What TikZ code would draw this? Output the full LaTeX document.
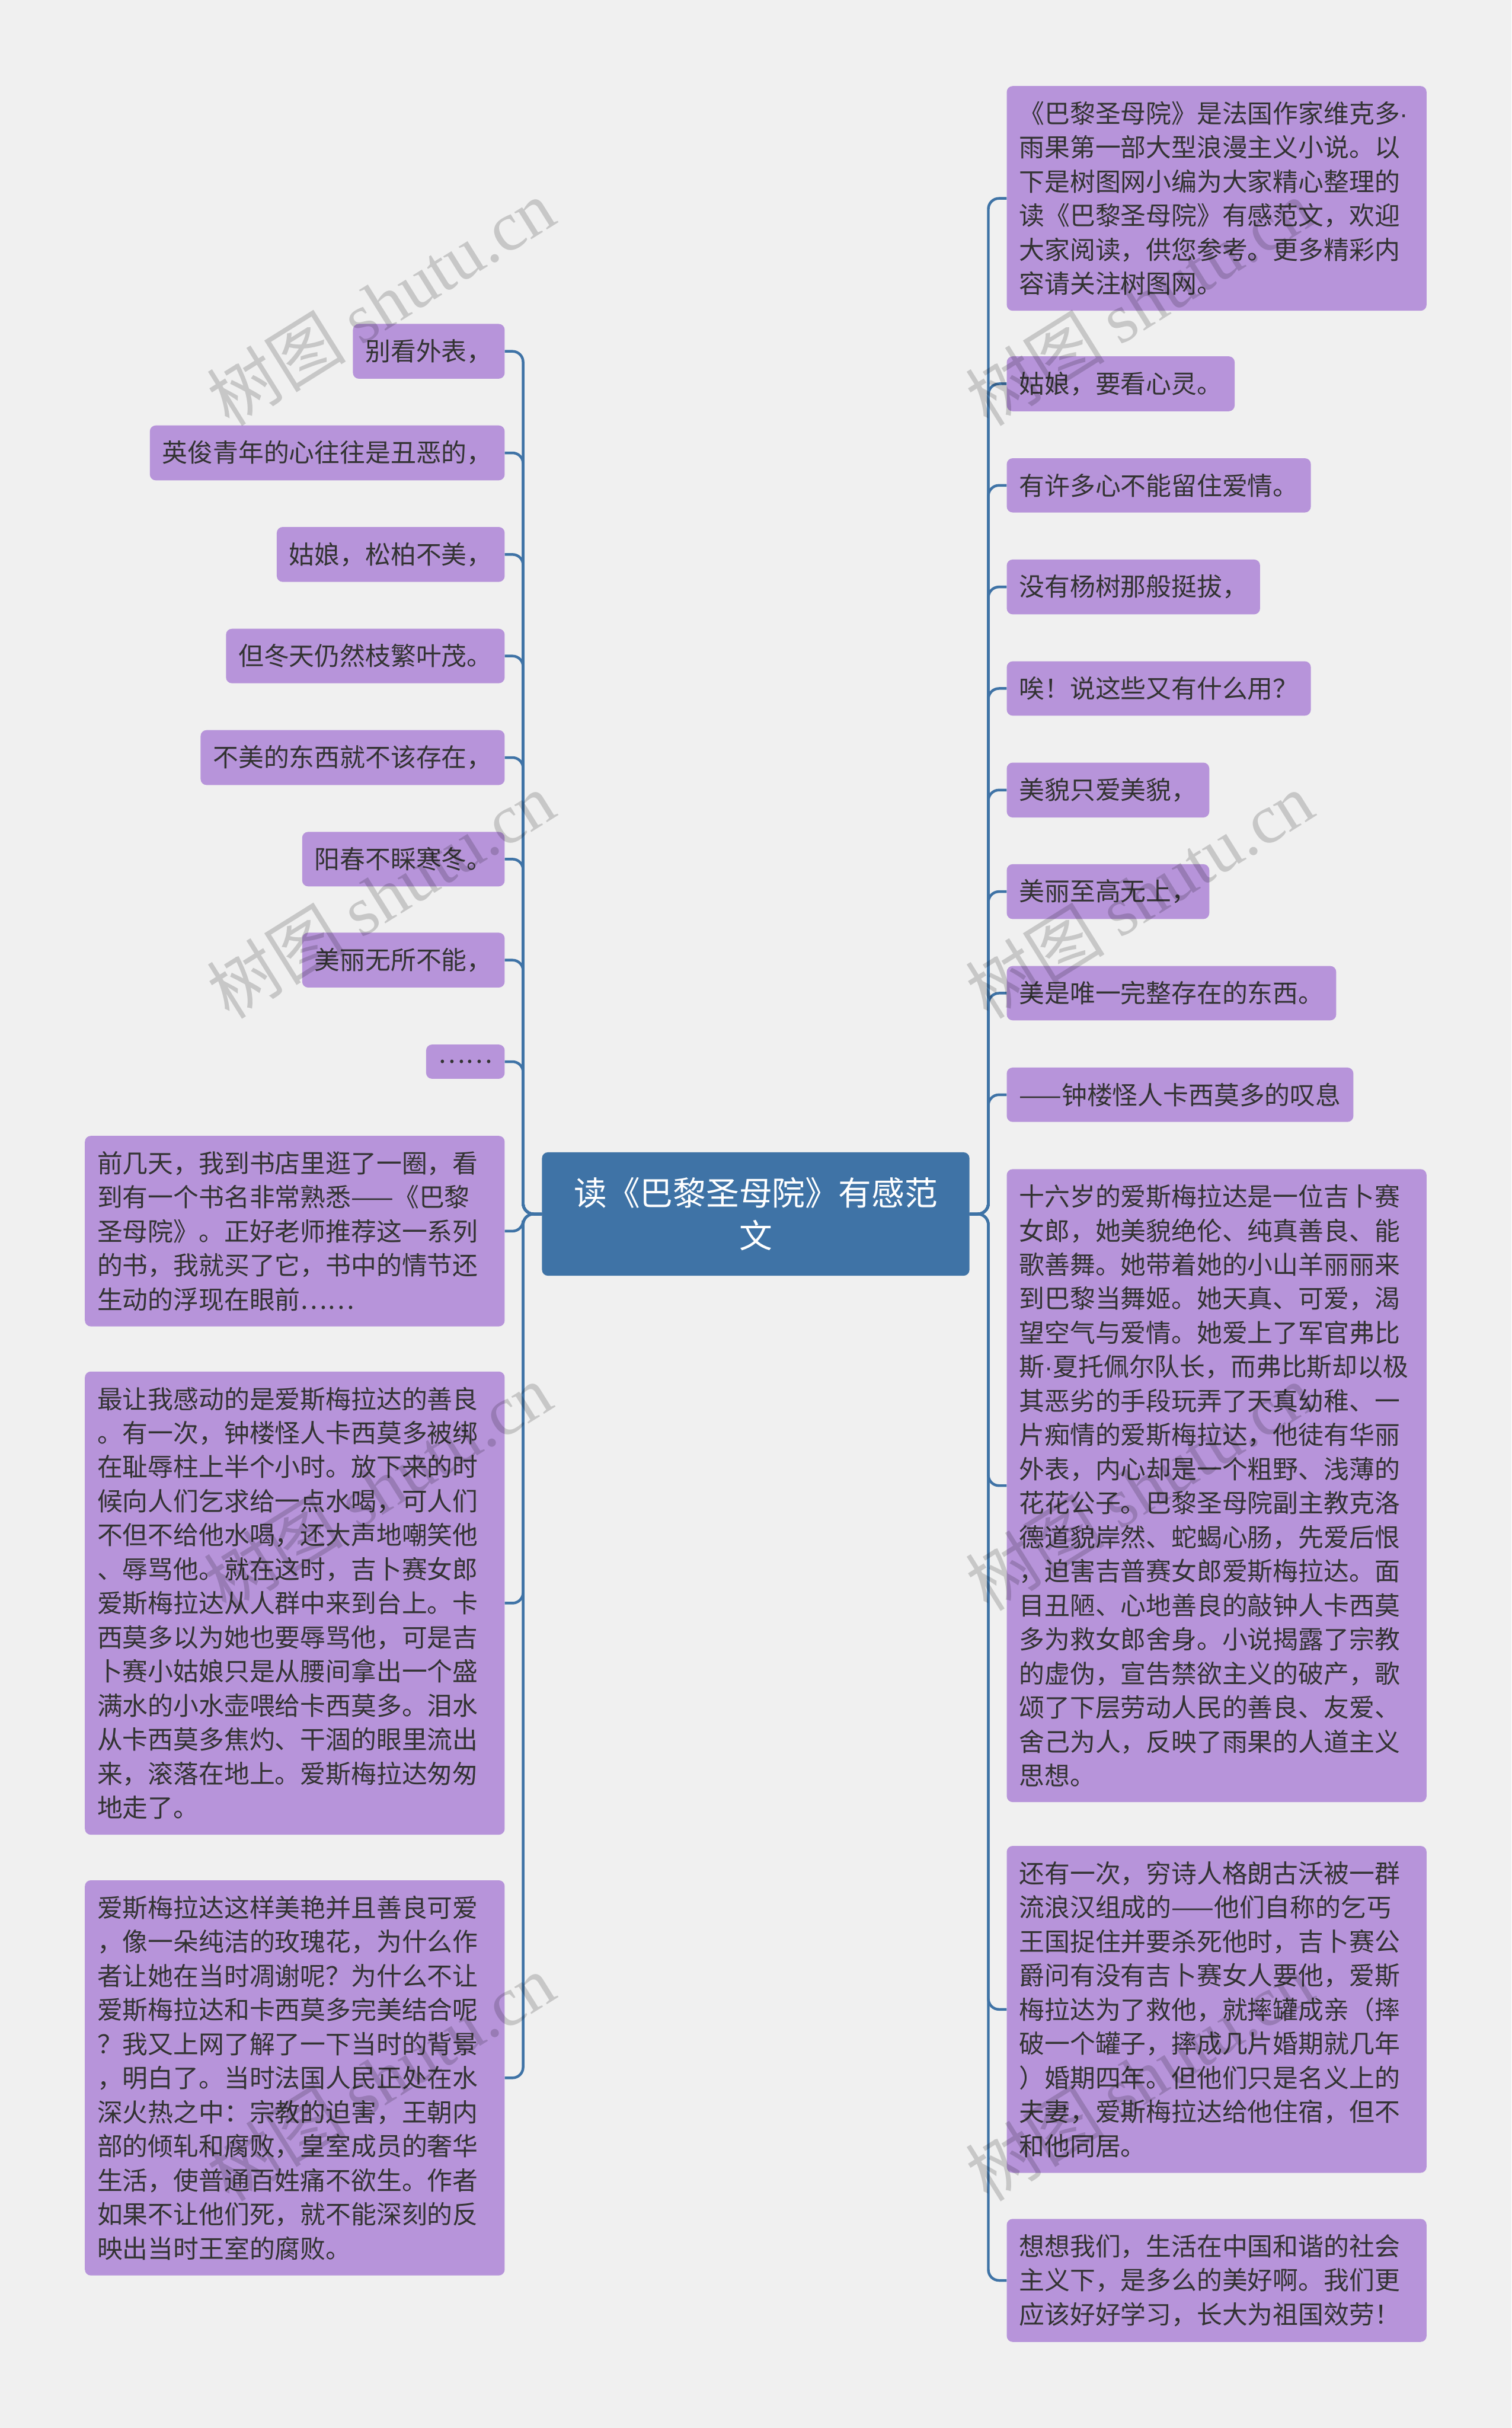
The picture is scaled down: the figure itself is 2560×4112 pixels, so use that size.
\documentclass[tikz,border=0pt]{standalone}
\usepackage{fontspec}
\setmainfont{Noto Sans CJK SC}
\newfontfamily\wmlatin{Liberation Serif}
\newfontfamily\dotfont{Liberation Sans}
\newcommand{\mdot}{{\dotfont ·}}
\definecolor{bgc}{HTML}{F0F0F0}
\definecolor{rootc}{HTML}{3F73A6}
\definecolor{leafc}{HTML}{B794DA}
\definecolor{txtc}{HTML}{333333}
\tikzset{
  leaf/.style={fill=leafc, rounded corners=10pt, inner xsep=21pt, inner ysep=26pt,
    font=\fontsize{43pt}{57.7pt}\selectfont, text=txtc},
  wideleaf/.style={leaf, text width=669pt, align=left},
  rootbox/.style={fill=rootc, rounded corners=10pt, inner sep=0pt, minimum width=724pt,
    minimum height=209pt, align=center, text=white, font=\fontsize{56pt}{73pt}\selectfont},
  conn/.style={draw=rootc, line width=4.5pt, rounded corners=18pt},
  wm/.style={rotate=32, text=black, text opacity=0.17, font=\fontsize{118pt}{118pt}\selectfont}
}
\begin{document}
\begin{tikzpicture}[x=1pt,y=-1pt]
\fill[bgc] (0,0) rectangle (2560,4112);
\useasboundingbox (0,0) rectangle (2560,4112);

\node[rootbox] (root) at (1280,2056) {读《巴黎圣母院》有感范\\文};

% left side
\node[leaf, anchor=east] (l1) at (855,595) {别看外表，};
\node[leaf, anchor=east] (l2) at (855,767) {英俊青年的心往往是丑恶的，};
\node[leaf, anchor=east] (l3) at (855,939) {姑娘，松柏不美，};
\node[leaf, anchor=east] (l4) at (855,1111) {但冬天仍然枝繁叶茂。};
\node[leaf, anchor=east] (l5) at (855,1283) {不美的东西就不该存在，};
\node[leaf, anchor=east] (l6) at (855,1455) {阳春不睬寒冬。};
\node[leaf, anchor=east] (l7) at (855,1626) {美丽无所不能，};
\node[leaf, anchor=east] (l8) at (855,1798) {……};
\node[wideleaf, anchor=east] (l9) at (855,2085) {前几天，我到书店里逛了一圈，看\\到有一个书名非常熟悉——《巴黎\\圣母院》。正好老师推荐这一系列\\的书，我就买了它，书中的情节还\\生动的浮现在眼前……};
\node[wideleaf, anchor=east] (l10) at (855,2715) {最让我感动的是爱斯梅拉达的善良\\。有一次，钟楼怪人卡西莫多被绑\\在耻辱柱上半个小时。放下来的时\\候向人们乞求给一点水喝，可人们\\不但不给他水喝，还大声地嘲笑他\\、辱骂他。就在这时，吉卜赛女郎\\爱斯梅拉达从人群中来到台上。卡\\西莫多以为她也要辱骂他，可是吉\\卜赛小姑娘只是从腰间拿出一个盛\\满水的小水壶喂给卡西莫多。泪水\\从卡西莫多焦灼、干涸的眼里流出\\来，滚落在地上。爱斯梅拉达匆匆\\地走了。};
\node[wideleaf, anchor=east] (l11) at (855,3519) {爱斯梅拉达这样美艳并且善良可爱\\，像一朵纯洁的玫瑰花，为什么作\\者让她在当时凋谢呢？为什么不让\\爱斯梅拉达和卡西莫多完美结合呢\\？我又上网了解了一下当时的背景\\，明白了。当时法国人民正处在水\\深火热之中：宗教的迫害，王朝内\\部的倾轧和腐败，皇室成员的奢华\\生活，使普通百姓痛不欲生。作者\\如果不让他们死，就不能深刻的反\\映出当时王室的腐败。};

% right side
\node[wideleaf, anchor=west] (r1) at (1705,336) {《巴黎圣母院》是法国作家维克多\mdot\\雨果第一部大型浪漫主义小说。以\\下是树图网小编为大家精心整理的\\读《巴黎圣母院》有感范文，欢迎\\大家阅读，供您参考。更多精彩内\\容请关注树图网。};
\node[leaf, anchor=west] (r2) at (1705,650) {姑娘，要看心灵。};
\node[leaf, anchor=west] (r3) at (1705,822) {有许多心不能留住爱情。};
\node[leaf, anchor=west] (r4) at (1705,994) {没有杨树那般挺拔，};
\node[leaf, anchor=west] (r5) at (1705,1166) {唉！说这些又有什么用？};
\node[leaf, anchor=west] (r6) at (1705,1338) {美貌只爱美貌，};
\node[leaf, anchor=west] (r7) at (1705,1510) {美丽至高无上，};
\node[leaf, anchor=west] (r8) at (1705,1682) {美是唯一完整存在的东西。};
\node[leaf, anchor=west] (r9) at (1705,1854) {——钟楼怪人卡西莫多的叹息};
\node[wideleaf, anchor=west] (r10) at (1705,2516) {十六岁的爱斯梅拉达是一位吉卜赛\\女郎，她美貌绝伦、纯真善良、能\\歌善舞。她带着她的小山羊丽丽来\\到巴黎当舞姬。她天真、可爱，渴\\望空气与爱情。她爱上了军官弗比\\斯\mdot 夏托佩尔队长，而弗比斯却以极\\其恶劣的手段玩弄了天真幼稚、一\\片痴情的爱斯梅拉达，他徒有华丽\\外表，内心却是一个粗野、浅薄的\\花花公子。巴黎圣母院副主教克洛\\德道貌岸然、蛇蝎心肠，先爱后恨\\，迫害吉普赛女郎爱斯梅拉达。面\\目丑陋、心地善良的敲钟人卡西莫\\多为救女郎舍身。小说揭露了宗教\\的虚伪，宣告禁欲主义的破产，歌\\颂了下层劳动人民的善良、友爱、\\舍己为人，反映了雨果的人道主义\\思想。};
\node[wideleaf, anchor=west] (r11) at (1705,3403) {还有一次，穷诗人格朗古沃被一群\\流浪汉组成的——他们自称的乞丐\\王国捉住并要杀死他时，吉卜赛公\\爵问有没有吉卜赛女人要他，爱斯\\梅拉达为了救他，就摔罐成亲（摔\\破一个罐子，摔成几片婚期就几年\\）婚期四年。但他们只是名义上的\\夫妻，爱斯梅拉达给他住宿，但不\\和他同居。};
\node[wideleaf, anchor=west] (r12) at (1705,3862) {想想我们，生活在中国和谐的社会\\主义下，是多么的美好啊。我们更\\应该好好学习，长大为祖国效劳！};

% connectors
\foreach \n in {l1,l2,l3,l4,l5,l6,l7,l8,l9,l10,l11}
  \draw[conn] (root.west) -- (886,2056) |- (\n.east);
\foreach \n in {r1,r2,r3,r4,r5,r6,r7,r8,r9,r10,r11,r12}
  \draw[conn] (root.east) -- (1674,2056) |- (\n.west);

% watermarks
\foreach \px/\py in {645/512,645/1516,640/2518,645/3518,1930/512,1930/1516,1930/2518,1930/3518}
  \node[wm] at (\px,\py) {树图 {\wmlatin shutu.cn}};
\end{tikzpicture}
\end{document}
